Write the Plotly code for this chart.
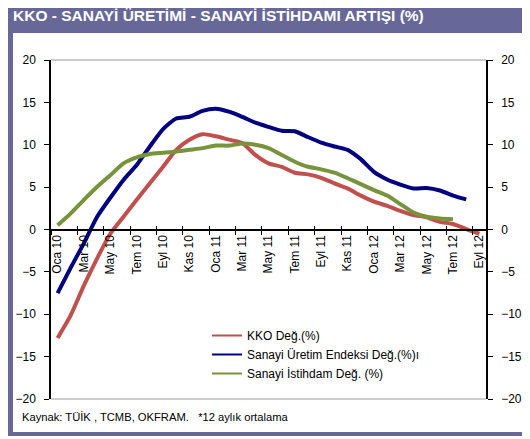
import plotly.graph_objects as go

months = ["Oca 10","Şub 10","Mar 10","Nis 10","May 10","Haz 10","Tem 10","Ağu 10","Eyl 10","Eki 10","Kas 10","Ara 10",
          "Oca 11","Şub 11","Mar 11","Nis 11","May 11","Haz 11","Tem 11","Ağu 11","Eyl 11","Eki 11","Kas 11","Ara 11",
          "Oca 12","Şub 12","Mar 12","Nis 12","May 12","Haz 12","Tem 12","Ağu 12","Eyl 12"]

kko = [-12.8, -10.1, -6.6, -3.4, -0.5, 1.5, 3.5, 5.45, 7.4, 9.4, 10.6, 11.25,
       11.0, 10.6, 10.2, 8.8, 7.8, 7.4, 6.7, 6.5, 6.1, 5.45, 4.85, 4.0,
       3.3, 2.8, 2.2, 1.7, 1.45, 0.9, 0.65, 0.05, -0.5]

uretim = [-7.5, -4.5, -1.6, 1.5, 3.75, 5.85, 7.6, 9.8, 11.85, 13.1, 13.3, 14.0,
          14.25, 13.9, 13.3, 12.6, 12.1, 11.65, 11.6, 10.9, 10.25, 9.8, 9.4, 8.3,
          6.8, 5.9, 5.3, 4.85, 4.9, 4.6, 4.0, 3.55]

istihdam = [0.5, 1.9, 3.5, 5.05, 6.4, 7.8, 8.5, 8.9, 9.05, 9.2, 9.4, 9.6,
            9.9, 9.9, 10.15, 10.0, 9.6, 8.8, 8.0, 7.4, 7.1, 6.7, 6.05, 5.35,
            4.65, 4.0, 3.0, 2.0, 1.5, 1.3, 1.2]

series_names = ["KKO Değ.(%)", "Sanayi Üretim Endeksi Değ.(%)ı", "Sanayi İstihdam Değ. (%)"]
colors = ["#C0504D", "#000080", "#77933C"]
y_ticks = [-20, -15, -10, -5, 0, 5, 10, 15, 20]

idx = list(range(len(months)))
label_idx = idx[::2]
label_txt = [months[i] for i in label_idx]
tick_between = [i - 0.5 for i in label_idx]

FONT = "Liberation Sans, Arial, sans-serif"
fig = go.Figure()
for name, vals, c in zip(series_names, [kko, uretim, istihdam], colors):
    fig.add_trace(go.Scatter(x=idx[:len(vals)], y=vals, mode="lines", name=name,
                             line=dict(color=c, width=4, shape="spline", smoothing=0.6),
                             showlegend=False, hoverinfo="skip"))
for name, c in zip(series_names, colors):
    fig.add_trace(go.Scatter(x=[None], y=[None], mode="lines", name=name,
                             line=dict(color=c, width=2), showlegend=True))

# page body has an 8px margin: figure origin sits at window (8, 8)
OFF = 8
W, H = 530 - OFF, 439 - OFF
L, R, T, B = 51 - OFF, W - (486 - OFF), 60 - OFF, H - (399 - OFF)
pw, ph = W - L - R, H - T - B
def px(x): return (x - OFF - L) / pw
def py(y): return (H - B - (y - OFF)) / ph

shapes = [
    dict(type="rect", xref="paper", yref="paper", x0=px(8), x1=px(527), y0=py(436), y1=py(0),
         fillcolor="#676898", line=dict(width=0), layer="below"),
    dict(type="rect", xref="paper", yref="paper", x0=px(13), x1=px(523), y0=py(432), y1=py(33),
         fillcolor="white", line=dict(width=0), layer="below"),
    dict(type="line", xref="paper", yref="paper", x0=0, x1=1, y0=1, y1=1, line=dict(color="#999999", width=1)),
    dict(type="line", xref="paper", yref="paper", x0=0, x1=1, y0=0, y1=0, line=dict(color="#999999", width=1)),
]

ax_common = dict(range=[-0.5, len(months) - 0.5], showgrid=False, zeroline=False, fixedrange=True)
fig.update_layout(
    width=W, height=H, margin=dict(l=L, r=R, t=T, b=B, autoexpand=False),
    paper_bgcolor="white", plot_bgcolor="white",
    font=dict(family=FONT, size=12, color="#000000"),
    shapes=shapes,
    xaxis=dict(**ax_common, tickmode="array", tickvals=label_idx, ticktext=label_txt, tickangle=-90,
               ticks="", showline=True, linecolor="black", linewidth=1.5,
               anchor="free", position=0.5, tickfont=dict(size=12)),
    xaxis2=dict(**ax_common, overlaying="x", tickmode="array", tickvals=tick_between, ticks="outside",
                ticklen=4, tickcolor="black", showticklabels=False, showline=False,
                anchor="free", position=0.5),
    xaxis3=dict(**ax_common, overlaying="x", tickmode="array", tickvals=tick_between, ticks="inside",
                ticklen=4, tickcolor="black", showticklabels=False, showline=False,
                anchor="free", position=0.5),
    yaxis=dict(range=[-20, 20], tickmode="array", tickvals=y_ticks, ticks="outside", ticklen=5,
               tickcolor="black", showline=True, linecolor="black", linewidth=1.5, showgrid=False,
               zeroline=False, ticklabelstandoff=6, tickfont=dict(size=12), fixedrange=True),
    yaxis2=dict(range=[-20, 20], overlaying="y", side="right", tickmode="array", tickvals=y_ticks,
                ticks="outside", ticklen=5, tickcolor="black", showline=True, linecolor="black",
                linewidth=1.5, showgrid=False, zeroline=False, ticklabelstandoff=6,
                tickfont=dict(size=12), fixedrange=True),
    legend=dict(x=px(207), y=py(321), xanchor="left", yanchor="top", bgcolor="rgba(0,0,0,0)",
                font=dict(size=12), itemwidth=30, tracegroupgap=0),
    annotations=[
        dict(text="<b>KKO - SANAYİ ÜRETİMİ - SANAYİ İSTİHDAMI ARTIŞI (%)</b>", xref="paper", yref="paper",
             x=px(11), y=py(16), xanchor="left", yanchor="middle", showarrow=False,
             font=dict(size=15.5, color="white", family=FONT)),
        dict(text="Kaynak: TÜİK , TCMB, OKFRAM.   *12 aylık ortalama", xref="paper", yref="paper",
             x=px(20), y=py(417), xanchor="left", yanchor="middle", showarrow=False,
             font=dict(size=11.2, color="#000000", family=FONT)),
    ],
)
fig.add_trace(go.Scatter(x=[None], y=[None], xaxis="x2", showlegend=False, hoverinfo="skip"))
fig.add_trace(go.Scatter(x=[None], y=[None], xaxis="x3", showlegend=False, hoverinfo="skip"))
fig.add_trace(go.Scatter(x=[None], y=[None], yaxis="y2", showlegend=False, hoverinfo="skip"))

fig.write_html("out.html")
